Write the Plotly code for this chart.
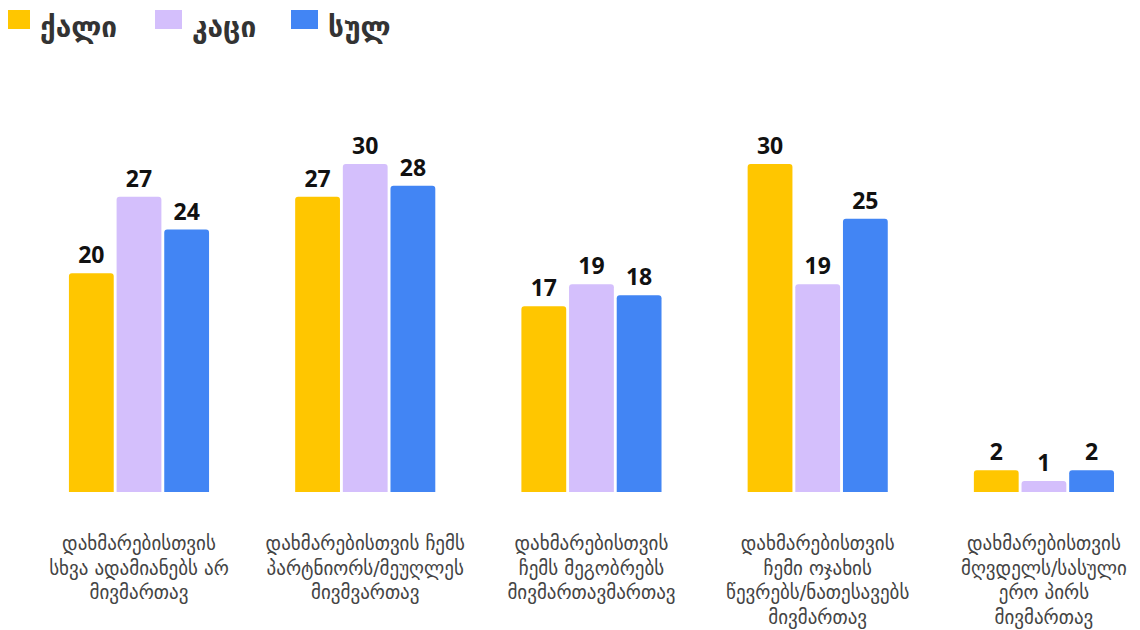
import plotly.graph_objects as go

categories = [
    "დახმარებისთვის<br>სხვა ადამიანებს არ<br>მივმართავ",
    "დახმარებისთვის ჩემს<br>პარტნიორს/მეუღლეს<br>მივმვართავ",
    "დახმარებისთვის<br>ჩემს მეგობრებს<br>მივმართავმართავ",
    "დახმარებისთვის<br>ჩემი ოჯახის<br>წევრებს/ნათესავებს<br>მივმართავ",
    "დახმარებისთვის<br>მღვდელს/სასული<br>ერო პირს<br>მივმართავ",
]
series_names = ["ქალი", "კაცი", "სულ"]
women = [20, 27, 17, 30, 2]
men = [27, 30, 19, 19, 1]
total = [24, 28, 18, 25, 2]
colors = ["#FFC600", "#D4BFFC", "#4285F4"]

fig = go.Figure()
for name, vals, col in zip(series_names, [women, men, total], colors):
    fig.add_trace(go.Bar(
        x=categories, y=vals, name=name,
        marker=dict(color=col, line=dict(width=0)),
        text=vals, texttemplate="<b>%{text}</b>", textposition="outside",
        textfont=dict(family="Noto Sans, DejaVu Sans", size=23, color="#111111"),
        cliponaxis=False, showlegend=False,
    ))

# Manual legend (swatches + labels), page offset of 8px accounted for
OFF = 8
PLOT_TOP = 156
PLOT_H = 328
leg_x = [3, 155, 291]
for i, (name, col) in enumerate(zip(series_names, colors)):
    x0 = leg_x[i] - OFF
    fig.add_shape(type="rect", xref="paper", yref="paper",
                  x0=x0 / 1140, x1=(x0 + 27) / 1140,
                  y0=1 + (PLOT_TOP - (29 - OFF)) / PLOT_H,
                  y1=1 + (PLOT_TOP - (10 - OFF)) / PLOT_H,
                  line=dict(width=0), fillcolor=col)
    fig.add_annotation(text="<b>" + name + "</b>", xref="paper", yref="paper",
                       x=(x0 + 35) / 1140, y=1 + (PLOT_TOP - (27 - OFF)) / PLOT_H,
                       xanchor="left", yanchor="middle", showarrow=False,
                       font=dict(family="DejaVu Sans", size=28, color="#333333"))

fig.update_layout(
    width=1140, height=630,
    margin=dict(l=0, r=0, t=PLOT_TOP, b=630 - PLOT_TOP - PLOT_H),
    plot_bgcolor="white", paper_bgcolor="white",
    barmode="group", bargap=0.368, bargroupgap=0.06,
    barcornerradius=3,
    xaxis=dict(range=[-0.579, 4.460], showgrid=False, showline=False,
               ticks="", ticklabelstandoff=38,
               tickfont=dict(family="DejaVu Sans", size=19, color="#444444")),
    yaxis=dict(range=[0, 30], visible=False, showgrid=False),
    font=dict(family="DejaVu Sans"),
)
fig.write_html("out.html")
